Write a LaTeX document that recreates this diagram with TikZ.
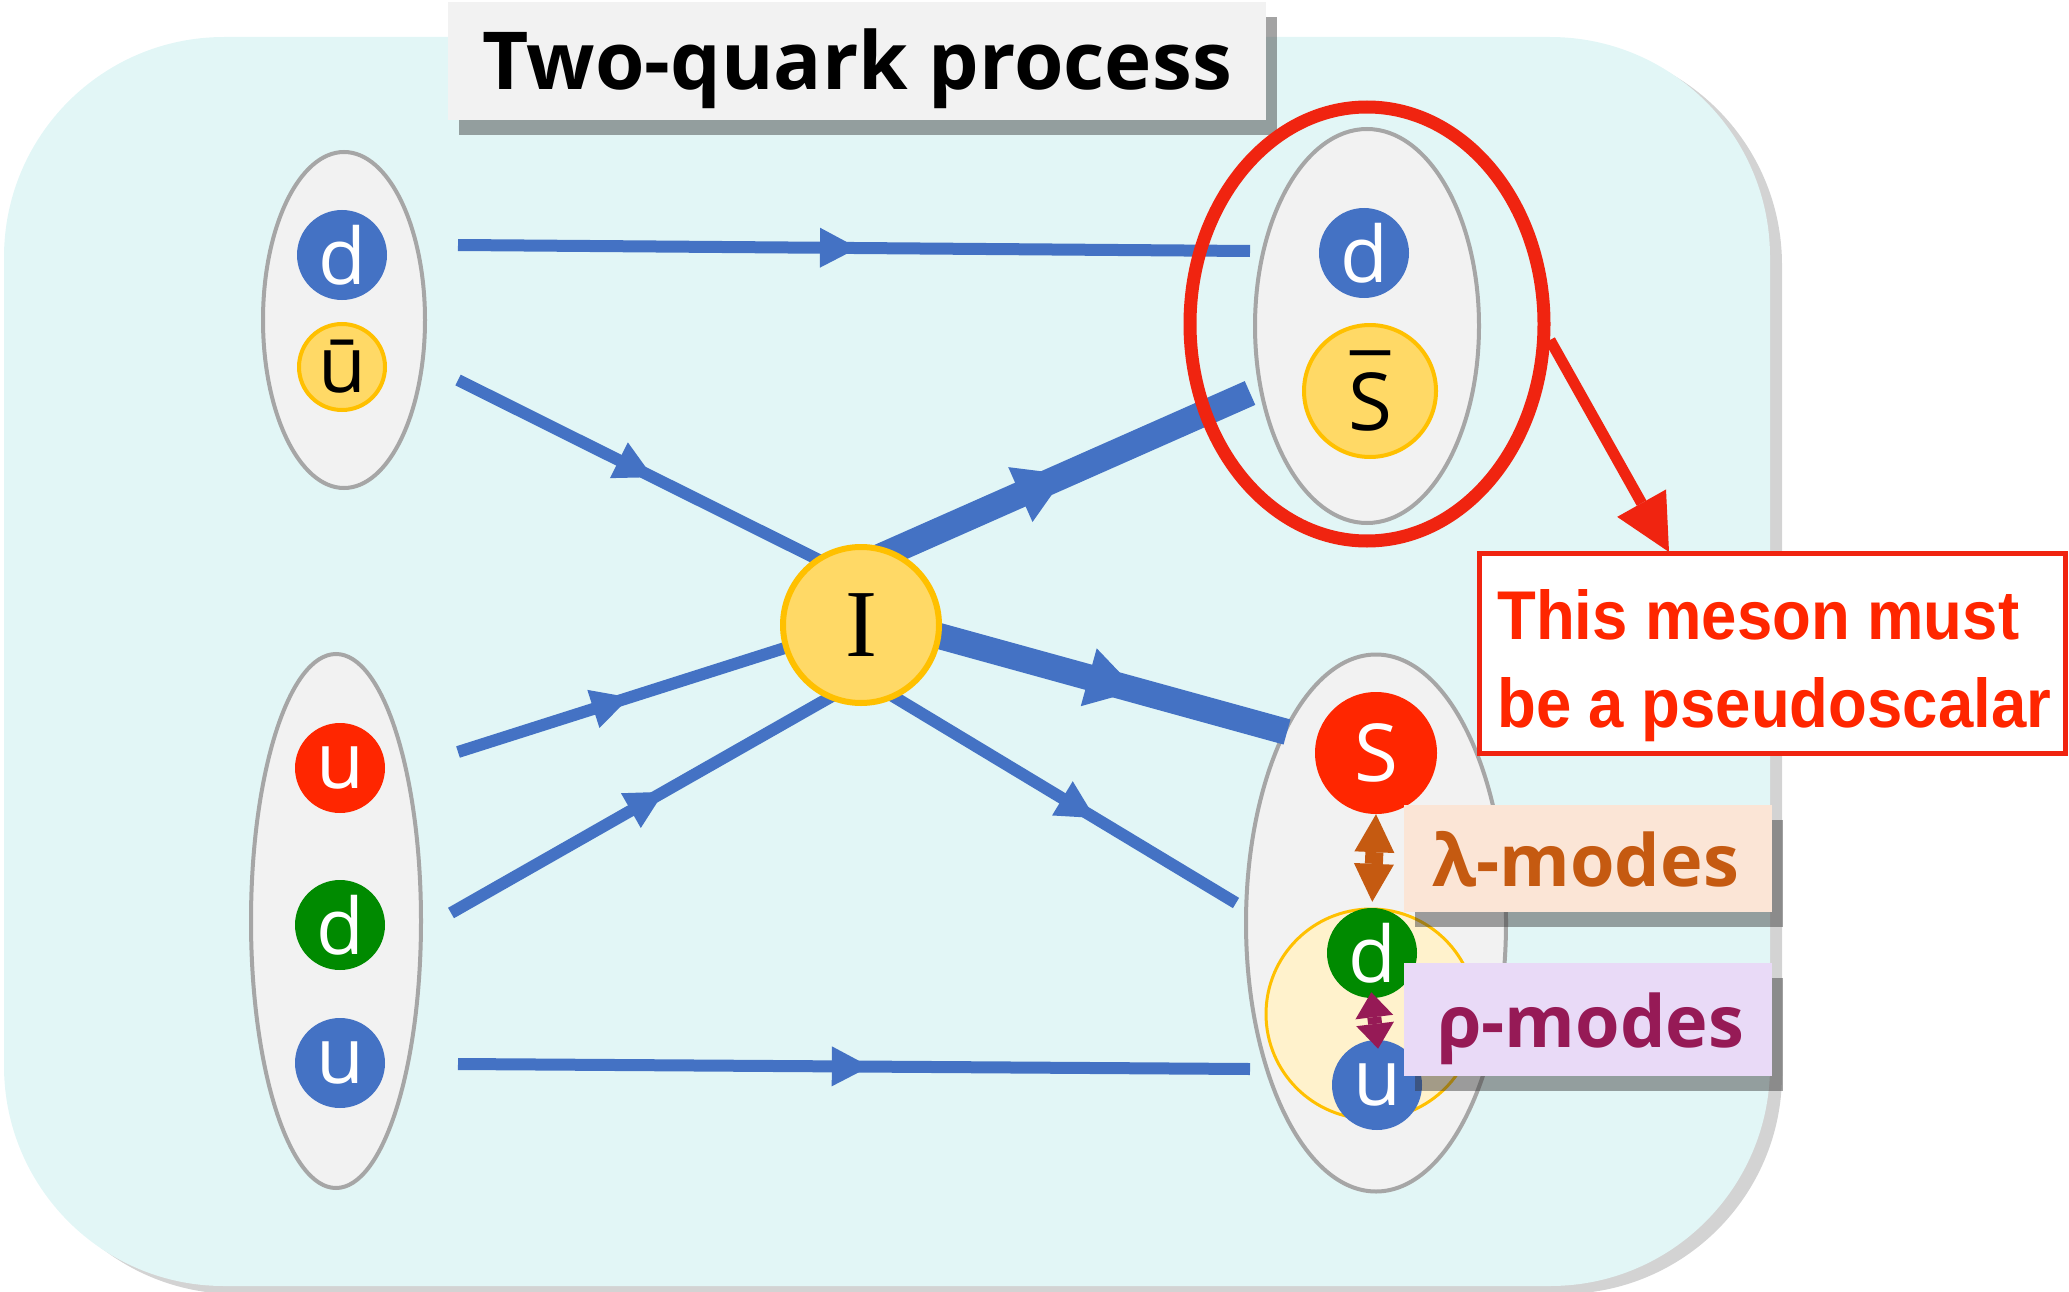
\documentclass[tikz,border=0pt]{standalone}
\usepackage{fontspec}
\setmainfont{Open Sans}
\newfontfamily\narrowfont[FakeStretch=0.92]{Liberation Sans}
\newfontfamily\serifI{Liberation Serif}
\usetikzlibrary{shapes.geometric,arrows.meta,decorations.markings,shadows}
\definecolor{bgcyan}{HTML}{E2F6F6}
\definecolor{ellfill}{HTML}{F2F2F2}
\definecolor{ellline}{HTML}{A6A6A6}
\definecolor{qblue}{HTML}{4472C4}
\definecolor{qyellow}{HTML}{FFD966}
\definecolor{qgold}{HTML}{FFC000}
\definecolor{qred}{HTML}{FF2600}
\definecolor{qgreen}{HTML}{008A00}
\definecolor{paleyellow}{HTML}{FFF2CC}
\definecolor{lamfill}{HTML}{FBE5D6}
\definecolor{lamtext}{HTML}{C55A11}
\definecolor{rhofill}{HTML}{E9DAF7}
\definecolor{rhotext}{HTML}{961A56}
\definecolor{boxred}{HTML}{F02410}
\definecolor{titlefill}{HTML}{F2F2F2}
\begin{document}
\begin{tikzpicture}[x=1pt,y=-1pt,
  quark/.style={circle,inner sep=0pt,minimum size=90pt,font=\fontsize{78}{78}\selectfont},
  grp/.style={ellipse,draw=ellline,line width=4pt,fill=ellfill,inner sep=0pt},
  qline/.style={qblue,line width=12pt},
  qthick/.style={qblue,line width=26pt},
  midarrow/.style={postaction={decorate},decoration={markings,mark=at position #1 with {\arrow{Triangle[length=38pt,width=40pt,line width=0pt]}}}},
  midarrowbig/.style={postaction={decorate},decoration={markings,mark=at position #1 with {\arrow{Triangle[length=50pt,width=60pt,line width=0pt]}}}},
  shadowed/.style={drop shadow={shadow xshift=11pt,shadow yshift=-15pt,opacity=0.45,fill=black!80}},
  modebox/.style={rectangle,inner sep=0pt,minimum width=368pt,shadowed},
  txt/.style={inner sep=0pt,anchor=base west},
]
\useasboundingbox (0,0) rectangle (2069,1292);
% background
\path[fill=bgcyan,rounded corners=220pt,drop shadow={shadow xshift=12pt,shadow yshift=-8pt,opacity=0.35}] (4,37) rectangle (1770,1286);
% title
\node[rectangle,fill=titlefill,minimum width=818pt,minimum height=118pt,inner sep=0pt,shadowed] (title) at (857,61) {};
\node[anchor=base,inner sep=0pt,font=\bfseries\fontsize{80}{80}\selectfont] (ttl) at (857,90) {Two-quark process};
% groups
\node[grp,minimum width=162pt,minimum height=336pt] (gLT) at (344,320) {};
\node[grp,minimum width=170pt,minimum height=534pt] (gLB) at (336,921) {};
\node[grp,minimum width=224pt,minimum height=394pt] (gRT) at (1367,326) {};
\node[grp,minimum width=260pt,minimum height=537pt] (gRB) at (1376,923) {};
\node[circle,fill=paleyellow,draw=qgold,line width=3pt,minimum size=210pt,inner sep=0pt] (pale) at (1371,1014) {};
% quark lines
\coordinate (a1) at (458,245); \coordinate (b1) at (1250,251);
\coordinate (a2) at (458,380); \coordinate (c2) at (821,561);
\coordinate (a3) at (458,752); \coordinate (c3) at (788,647);
\coordinate (a4) at (451,913); \coordinate (c4) at (834,695);
\coordinate (a5) at (458,1064); \coordinate (b5) at (1250,1069);
\coordinate (c6) at (877,558); \coordinate (b6) at (1250,393);
\coordinate (c7) at (921,631); \coordinate (b7) at (1287,732);
\coordinate (c8) at (886,692); \coordinate (b8) at (1236,903);
\draw[qline,midarrow=0.505] (a1) -- (b1);
\draw[qline,midarrow=0.537] (a2) -- (c2);
\draw[qline,midarrow=0.52] (a3) -- (c3);
\draw[qline,midarrow=0.556] (a4) -- (c4);
\draw[qline,midarrow=0.52] (a5) -- (b5);
\draw[qthick,midarrowbig=0.507] (c6) -- (b6);
\draw[qthick,midarrowbig=0.59] (c7) -- (b7);
\draw[qline,midarrow=0.597] (c8) -- (b8);
% quarks left
\node[quark,fill=qblue,text=white] (dLT) at (342,255) {d};
\node[quark,fill=qyellow,draw=qgold,line width=4pt,minimum size=86pt] (uLT) at (342,367) {\=u};
\node[quark,fill=qred,text=white] (uLB1) at (340,768) {u};
\node[quark,fill=qgreen,text=white] (dLB) at (340,925) {d};
\node[quark,fill=qblue,text=white] (uLB2) at (340,1063) {u};
% quarks right
\node[quark,fill=qblue,text=white] (dRT) at (1364,253) {d};
\node[quark,fill=qyellow,draw=qgold,line width=4pt,minimum size=132pt,font=\fontsize{80}{80}\selectfont] (sRT) at (1370,391) {\accent"00AF S};
\node[quark,fill=qred,text=white,minimum size=122pt,font=\fontsize{80}{80}\selectfont] (S) at (1376,753) {S};
\node[quark,fill=qgreen,text=white] (dR) at (1372,953) {d};
\node[quark,fill=qblue,text=white] (uR) at (1377,1085) {u};
% interaction vertex
\node[circle,fill=qyellow,draw=qgold,line width=6pt,minimum size=156pt,inner sep=0pt,font=\serifI\fontsize{96}{96}\selectfont] (I) at (861,625) {I};
% meson highlight
\node[ellipse,draw=boxred,line width=13pt,minimum width=354pt,minimum height=434pt,inner sep=0pt] (meson) at (1367,324) {};
\node[rectangle,draw=boxred,line width=5pt,fill=white,minimum width=586pt,minimum height=200pt,inner sep=0pt] (note) at (1772,653) {};
\coordinate (tipR) at (1669,552);
\draw[boxred,line width=11pt,-{Triangle[length=56pt,width=56pt,line width=0pt]}] (meson.-5) -- (tipR);
\node[txt,text=qred,font=\narrowfont\bfseries\fontsize{69}{69}\selectfont] (t1) at (1497,639) {This meson must};
\node[txt,text=qred,font=\narrowfont\bfseries\fontsize{69}{69}\selectfont] (t2) at (1497,727) {be a pseudoscalar};
% modes
\node[modebox,fill=lamfill,minimum height=107pt] (lam) at (1588,858) {};
\node[txt,text=lamtext,font=\bfseries\fontsize{72}{72}\selectfont] (lamt) at (1432,886) {λ-modes};
\node[modebox,fill=rhofill,minimum height=113pt] (rho) at (1588,1019.5) {};
\node[txt,text=rhotext,font=\bfseries\fontsize{72}{72}\selectfont] (rhot) at (1437,1047) {ρ-modes};
\draw[lamtext,line width=18pt,{Triangle[length=38pt,width=40pt,line width=0pt]}-{Triangle[length=38pt,width=40pt,line width=0pt]},shorten >=6pt] (S.south) -- (dR.north);
\draw[rhotext,line width=14pt,{Triangle[length=25pt,width=38pt,line width=0pt]}-{Triangle[length=25pt,width=38pt,line width=0pt]},shorten <=-6pt,shorten >=-9pt] (dR.south) -- (uR.north);
\end{tikzpicture}
\end{document}
